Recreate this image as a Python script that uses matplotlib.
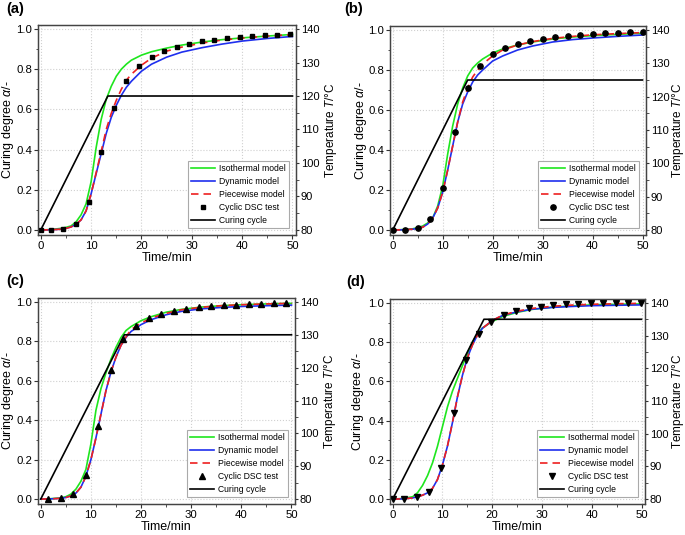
import matplotlib
matplotlib.use("Agg")
import matplotlib.pyplot as plt
from matplotlib.lines import Line2D
from matplotlib.ticker import MultipleLocator, FormatStrFormatter

plt.rcParams['font.family'] = ['Liberation Sans', 'DejaVu Sans']
plt.rcParams['mathtext.fontset'] = 'custom'
plt.rcParams['mathtext.it'] = 'Liberation Sans:italic'
plt.rcParams['mathtext.rm'] = 'Liberation Sans'

# ---------------- data ----------------
t_model = [0, 2, 4, 5, 6, 7, 8, 9, 10, 11, 12, 13, 14, 15, 16, 17, 18, 20, 22, 25, 28, 32, 36, 40, 45, 50]

# panel (a)
iso_a = [0, 0.002, 0.008, 0.013, 0.02, 0.04, 0.075, 0.13, 0.24, 0.41, 0.55, 0.65, 0.715, 0.765, 0.80, 0.825, 0.845, 0.87, 0.887, 0.905, 0.92, 0.935, 0.947, 0.956, 0.965, 0.973]
dyn_a = [0, 0.001, 0.004, 0.008, 0.015, 0.028, 0.05, 0.095, 0.18, 0.28, 0.38, 0.48, 0.56, 0.62, 0.67, 0.71, 0.74, 0.79, 0.825, 0.86, 0.885, 0.907, 0.925, 0.94, 0.953, 0.963]
pw_a  = [0, 0.001, 0.004, 0.008, 0.015, 0.028, 0.05, 0.095, 0.18, 0.285, 0.39, 0.50, 0.58, 0.645, 0.70, 0.745, 0.775, 0.82, 0.855, 0.89, 0.91, 0.93, 0.945, 0.955, 0.965, 0.972]
t_dsc_a = [0, 2, 4.5, 7, 9.5, 12, 14.5, 17, 19.5, 22, 24.5, 27, 29.5, 32, 34.5, 37, 39.5, 42, 44.5, 47, 49.5]
dsc_a = [0, 0.0, 0.007, 0.03, 0.14, 0.386, 0.605, 0.74, 0.818, 0.862, 0.892, 0.912, 0.927, 0.939, 0.947, 0.954, 0.962, 0.965, 0.968, 0.972, 0.975]
cyc_t_a = [0, 13.33, 50]
cyc_T_a = [80, 120, 120]

# panel (b)
iso_b = [0, 0.002, 0.006, 0.012, 0.02, 0.035, 0.06, 0.12, 0.22, 0.38, 0.52, 0.63, 0.71, 0.77, 0.81, 0.835, 0.855, 0.885, 0.905, 0.925, 0.94, 0.955, 0.965, 0.972, 0.978, 0.984]
dyn_b = [0, 0.001, 0.004, 0.008, 0.014, 0.03, 0.06, 0.11, 0.19, 0.30, 0.42, 0.54, 0.63, 0.69, 0.74, 0.775, 0.80, 0.845, 0.87, 0.90, 0.92, 0.94, 0.952, 0.96, 0.968, 0.975]
pw_b  = [0, 0.001, 0.004, 0.008, 0.014, 0.03, 0.06, 0.11, 0.19, 0.30, 0.42, 0.54, 0.64, 0.71, 0.765, 0.80, 0.83, 0.87, 0.90, 0.925, 0.942, 0.958, 0.968, 0.976, 0.982, 0.987]
t_dsc_b = [0, 2.5, 5, 7.5, 10, 12.5, 15, 17.5, 20, 22.5, 25, 27.5, 30, 32.5, 35, 37.5, 40, 42.5, 45, 47.5, 50]
dsc_b = [0, 0.0, 0.01, 0.055, 0.21, 0.49, 0.71, 0.82, 0.879, 0.909, 0.929, 0.944, 0.954, 0.963, 0.970, 0.977, 0.980, 0.983, 0.985, 0.988, 0.990]
cyc_t_b = [0, 15, 50]
cyc_T_b = [80, 125, 125]

# panel (c)
iso_c = [0, 0.002, 0.006, 0.012, 0.025, 0.05, 0.09, 0.15, 0.28, 0.45, 0.56, 0.64, 0.71, 0.77, 0.82, 0.855, 0.875, 0.905, 0.925, 0.948, 0.962, 0.974, 0.981, 0.986, 0.99, 0.993]
dyn_c = [0, 0.001, 0.004, 0.008, 0.016, 0.03, 0.06, 0.115, 0.2, 0.31, 0.43, 0.55, 0.645, 0.72, 0.78, 0.82, 0.85, 0.885, 0.91, 0.935, 0.952, 0.965, 0.972, 0.977, 0.981, 0.984]
pw_c  = [0, 0.001, 0.004, 0.008, 0.016, 0.03, 0.06, 0.115, 0.2, 0.31, 0.43, 0.55, 0.645, 0.72, 0.78, 0.822, 0.86, 0.893, 0.918, 0.942, 0.96, 0.973, 0.981, 0.986, 0.99, 0.993]
t_dsc_c = [1.5, 4, 6.5, 9, 11.5, 14, 16.5, 19, 21.5, 24, 26.5, 29, 31.5, 34, 36.5, 39, 41.5, 44, 46.5, 49]
dsc_c = [0, 0.005, 0.026, 0.12, 0.373, 0.653, 0.81, 0.88, 0.917, 0.939, 0.955, 0.965, 0.974, 0.979, 0.985, 0.987, 0.99, 0.992, 0.993, 0.995]
cyc_t_c = [0, 16.67, 50]
cyc_T_c = [80, 130, 130]

# panel (d)
iso_d = [0, 0.003, 0.012, 0.033, 0.07, 0.12, 0.185, 0.27, 0.37, 0.47, 0.55, 0.615, 0.68, 0.74, 0.80, 0.84, 0.872, 0.905, 0.93, 0.952, 0.967, 0.978, 0.985, 0.99, 0.993, 0.995]
dyn_d = [0, 0.001, 0.006, 0.012, 0.02, 0.032, 0.055, 0.10, 0.175, 0.27, 0.39, 0.52, 0.63, 0.72, 0.785, 0.835, 0.87, 0.91, 0.935, 0.955, 0.968, 0.977, 0.982, 0.986, 0.988, 0.99]
pw_d  = [0, 0.001, 0.006, 0.012, 0.02, 0.032, 0.055, 0.10, 0.175, 0.27, 0.39, 0.52, 0.63, 0.72, 0.785, 0.835, 0.87, 0.91, 0.937, 0.958, 0.972, 0.983, 0.989, 0.993, 0.996, 0.998]
t_dsc_d = [0, 2.3, 4.8, 7.3, 9.8, 12.3, 14.8, 17.3, 19.8, 22.3, 24.8, 27.3, 29.8, 32.3, 34.8, 37.3, 39.8, 42.3, 44.8, 47.3, 49.8]
dsc_d = [0, 0.0, 0.01, 0.035, 0.16, 0.44, 0.707, 0.841, 0.904, 0.936, 0.959, 0.972, 0.98, 0.987, 0.992, 0.997, 1.0, 1.0, 1.0, 1.0, 1.0]
cyc_t_d = [0, 18.33, 50]
cyc_T_d = [80, 135, 135]

panels = [
    ("(a)", iso_a, dyn_a, pw_a, t_dsc_a, dsc_a, 's', cyc_t_a, cyc_T_a),
    ("(b)", iso_b, dyn_b, pw_b, t_dsc_b, dsc_b, 'o', cyc_t_b, cyc_T_b),
    ("(c)", iso_c, dyn_c, pw_c, t_dsc_c, dsc_c, '^', cyc_t_c, cyc_T_c),
    ("(d)", iso_d, dyn_d, pw_d, t_dsc_d, dsc_d, 'v', cyc_t_d, cyc_T_d),
]

# ---------------- layout (pixels) ----------------
W, H = 685, 535
boxes = [(38, 25, 296, 235), (390, 26, 646, 235), (38, 298, 295, 504), (390, 299, 645, 504)]
label_pos = [(6, 9), (344, 9), (6, 281), (346, 282)]
ylab_x = [8, 361, 8, 358]
rlab_x = [331, 678.5, 330, 678.5]

fig = plt.figure(figsize=(W / 100, H / 100), dpi=100)

YL = (-0.025, 1.02)
XL = (-0.55, 50.7)
GREEN, BLUE, RED = '#1ee61e', '#1f2fee', '#ee2020'
DASH = (0, (4.5, 3))

for (lab, iso, dyn, pw, tdsc, dsc, mk, ct, cT), box, lp, lx, rx in zip(panels, boxes, label_pos, ylab_x, rlab_x):
    x0, y0, x1, y1 = box
    ax = fig.add_axes([x0 / W, 1 - y1 / H, (x1 - x0) / W, (y1 - y0) / H])
    ax2 = ax.twinx()
    ms = 3.3 if mk == 's' else 3.8
    ax.plot(t_model, iso, color=GREEN, lw=1.2, zorder=3)
    ax.plot(t_model, dyn, color=BLUE, lw=1.2, zorder=3)
    ax.plot(t_model, pw, color=RED, lw=1.2, ls=DASH, zorder=4)
    ax.plot(tdsc, dsc, ls='none', marker=mk, color='black', ms=ms, zorder=5)
    ax2.plot(ct, cT, color='black', lw=1.2)

    ax.set_xlim(*XL)
    ax.set_ylim(*YL)
    ax2.set_ylim(80 + 60 * YL[0], 80 + 60 * YL[1])
    ax.xaxis.set_major_locator(MultipleLocator(10))
    ax.xaxis.set_minor_locator(MultipleLocator(5))
    ax.yaxis.set_major_locator(MultipleLocator(0.2))
    ax.yaxis.set_minor_locator(MultipleLocator(0.1))
    ax2.yaxis.set_major_locator(MultipleLocator(10))
    ax2.yaxis.set_minor_locator(MultipleLocator(5))
    ax.yaxis.set_major_formatter(FormatStrFormatter('%.1f'))
    ax.grid(True, which='major', color='#d0d0d0', ls=':', lw=0.8)
    ax.tick_params(which='major', length=3, width=0.8, labelsize=8.2, color='#333333', pad=1.2)
    ax2.tick_params(which='major', length=2.5, width=0.8, labelsize=8.0, color='#333333', pad=1.0)
    for a in (ax, ax2):
        a.tick_params(which='minor', length=1.8, width=0.6, color='#333333')
        for s in a.spines.values():
            s.set_color('#444444')
            s.set_linewidth(0.9)

    cx = (x0 + x1) / 2
    cy = (y0 + y1) / 2
    fig.text(cx / W, 1 - (y1 + 23) / H, 'Time/min', fontsize=9, ha='center', va='center')
    fig.text(lx / W, 1 - cy / H, r'Curing degree $\alpha$/-', fontsize=9, rotation=90,
             ha='center', va='center')
    fig.text(rx / W, 1 - cy / H, r'Temperature $T$/°C', fontsize=8.5, rotation=90,
             ha='center', va='center')

    handles = [
        Line2D([], [], color=GREEN, lw=1.2),
        Line2D([], [], color=BLUE, lw=1.2),
        Line2D([], [], color=RED, lw=1.2, ls=DASH),
        Line2D([], [], ls='none', marker=mk, color='black', ms=ms),
        Line2D([], [], color='black', lw=1.2),
    ]
    names = ['Isothermal model', 'Dynamic model', 'Piecewise model', 'Cyclic DSC test', 'Curing cycle']
    leg = ax2.legend(handles, names, loc='lower right', fontsize=6.2, handlelength=2.8,
                     borderaxespad=0.85, fancybox=False, framealpha=1, edgecolor='#aaaaaa',
                     labelspacing=0.45, borderpad=0.35, handletextpad=0.45)
    leg.get_frame().set_linewidth(0.8)

    fig.text(lp[0] / W, 1 - lp[1] / H, lab, fontsize=10.5, fontweight='bold', va='center', ha='left')

fig.savefig('out.png', dpi=100)
